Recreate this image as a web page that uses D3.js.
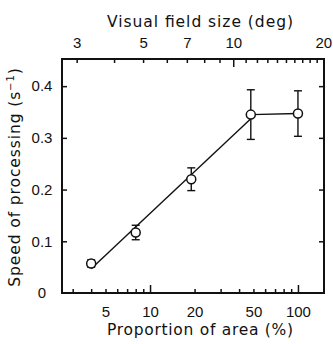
<!DOCTYPE html>
<html>
<head>
<meta charset="utf-8">
<script src="https://cdn.jsdelivr.net/npm/d3@7"></script>
<style>
  html, body { margin: 0; padding: 0; background: #fff; }
  svg { display: block; font-family: "DejaVu Sans", sans-serif; }
  .tick text { font-size: 15px; fill: #111; }
</style>
</head>
<body>
<svg id="chart" width="333" height="344"></svg>
<script>
// data
const area = [4, 8, 19, 48, 100];               // proportion of area (%)
const speed = [0.057, 0.117, 0.220, 0.345, 0.347]; // s^-1
const err = [0.007, 0.014, 0.022, 0.048, 0.044];
// fitted line (two end points) + flat segment
const fitArea = [4, 48];
const fitSpeed = [0.047, 0.337];

const bottomTicks = [3, 4, 5, 6, 7, 8, 9, 10, 20, 30, 40, 50, 60, 70, 80, 90, 100];
const bottomLabels = [5, 10, 20, 50, 100];
const bottomMajor = [10, 100];
const topTicks = [3, 4, 5, 6, 7, 8, 9, 10, 11, 12, 13, 14, 15, 16, 17, 18, 19, 20];
const topLabels = [3, 5, 7, 10, 20];
const topMajor = [10];
const yTicks = [0, 0.1, 0.2, 0.3, 0.4];

const W = 333, H = 344;
const margin = { top: 59, right: 9, bottom: 51, left: 62 };
const w = W - margin.left - margin.right;
const h = H - margin.top - margin.bottom;

const svg = d3.select("#chart");
const g = svg.append("g").attr("transform", `translate(${margin.left},${margin.top})`);

const x = d3.scaleLog().domain([2.54, 150]).range([0, w]);
const xTop = d3.scaleLog().domain([2.68, 20.1]).range([0, w]);
const y = d3.scaleLinear().domain([0, 0.4525]).range([h, 0]);

// axes, ticks pointing inward
const fmt = list => d => list.includes(d) ? String(d) : "";

const gb = g.append("g").attr("transform", `translate(0,${h})`)
  .call(d3.axisBottom(x).tickValues(bottomTicks).tickFormat(fmt(bottomLabels))
    .tickSizeInner(-4).tickSizeOuter(0).tickPadding(13));
gb.selectAll(".tick line").attr("y2", d => bottomMajor.includes(d) ? -8 : -4);

const gt = g.append("g")
  .call(d3.axisTop(xTop).tickValues(topTicks).tickFormat(fmt(topLabels))
    .tickSizeInner(-4).tickSizeOuter(0).tickPadding(11));
gt.selectAll(".tick line").attr("y2", d => topMajor.includes(d) ? 8 : 4);

const gl = g.append("g")
  .call(d3.axisLeft(y).tickValues(yTicks).tickFormat(d => d === 0 ? "0" : d3.format(".1f")(d))
    .tickSizeInner(-5).tickSizeOuter(0));
gl.selectAll(".tick text").attr("text-anchor", "middle").attr("x", -20);
gl.selectAll(".tick line").filter(d => d === 0).remove();

const gr = g.append("g").attr("transform", `translate(${w},0)`)
  .call(d3.axisRight(y).tickValues(yTicks.filter(d => d > 0)).tickFormat("")
    .tickSizeInner(-5).tickSizeOuter(0));

g.selectAll(".domain").remove();
g.selectAll(".tick line").attr("stroke", "#111").attr("stroke-width", 1.5);

// frame
g.append("rect").attr("width", w).attr("height", h)
  .attr("fill", "none").attr("stroke", "#111").attr("stroke-width", 2);

// fit line
const line = d3.line().x(d => x(d[0])).y(d => y(d[1]));
g.append("path")
  .datum(d3.zip(fitArea, fitSpeed))
  .attr("d", line).attr("fill", "none").attr("stroke", "#111").attr("stroke-width", 1.4);
g.append("path")
  .datum([[area[3], speed[3]], [area[4], speed[4]]])
  .attr("d", line).attr("fill", "none").attr("stroke", "#111").attr("stroke-width", 1.4);

// error bars
const pts = d3.range(area.length).map(i => ({ a: area[i], s: speed[i], e: err[i] }));
const eb = g.append("g").attr("stroke", "#111").attr("stroke-width", 1.4);
eb.selectAll("line.v").data(pts).join("line").attr("class", "v")
  .attr("x1", d => x(d.a)).attr("x2", d => x(d.a))
  .attr("y1", d => y(d.s - d.e)).attr("y2", d => y(d.s + d.e));
eb.selectAll("line.top").data(pts).join("line").attr("class", "top")
  .attr("x1", d => x(d.a) - 4).attr("x2", d => x(d.a) + 4)
  .attr("y1", d => y(d.s + d.e)).attr("y2", d => y(d.s + d.e));
eb.selectAll("line.bot").data(pts).join("line").attr("class", "bot")
  .attr("x1", d => x(d.a) - 4).attr("x2", d => x(d.a) + 4)
  .attr("y1", d => y(d.s - d.e)).attr("y2", d => y(d.s - d.e));

// points
g.selectAll("circle").data(pts).join("circle")
  .attr("cx", d => x(d.a)).attr("cy", d => y(d.s)).attr("r", 4.5)
  .attr("fill", "#fff").attr("stroke", "#111").attr("stroke-width", 1.5);

// titles
svg.append("text").attr("x", 200).attr("y", 27).attr("text-anchor", "middle")
  .attr("font-size", 15.5).attr("fill", "#111")
  .attr("textLength", 186).attr("lengthAdjust", "spacing")
  .text("Visual field size (deg)");

svg.append("text").attr("x", 200).attr("y", 335).attr("text-anchor", "middle")
  .attr("font-size", 15.5).attr("fill", "#111")
  .attr("textLength", 186).attr("lengthAdjust", "spacing")
  .text("Proportion of area (%)");

const yt = svg.append("text")
  .attr("transform", "translate(20,177) rotate(-90)")
  .attr("text-anchor", "middle").attr("font-size", 15.5).attr("fill", "#111")
  .attr("letter-spacing", 0.9);
yt.append("tspan").text("Speed of processing (s");
yt.append("tspan").attr("font-size", 10).attr("dy", -6).text("−1");
yt.append("tspan").attr("dy", 6).text(")");
</script>
</body>
</html>
